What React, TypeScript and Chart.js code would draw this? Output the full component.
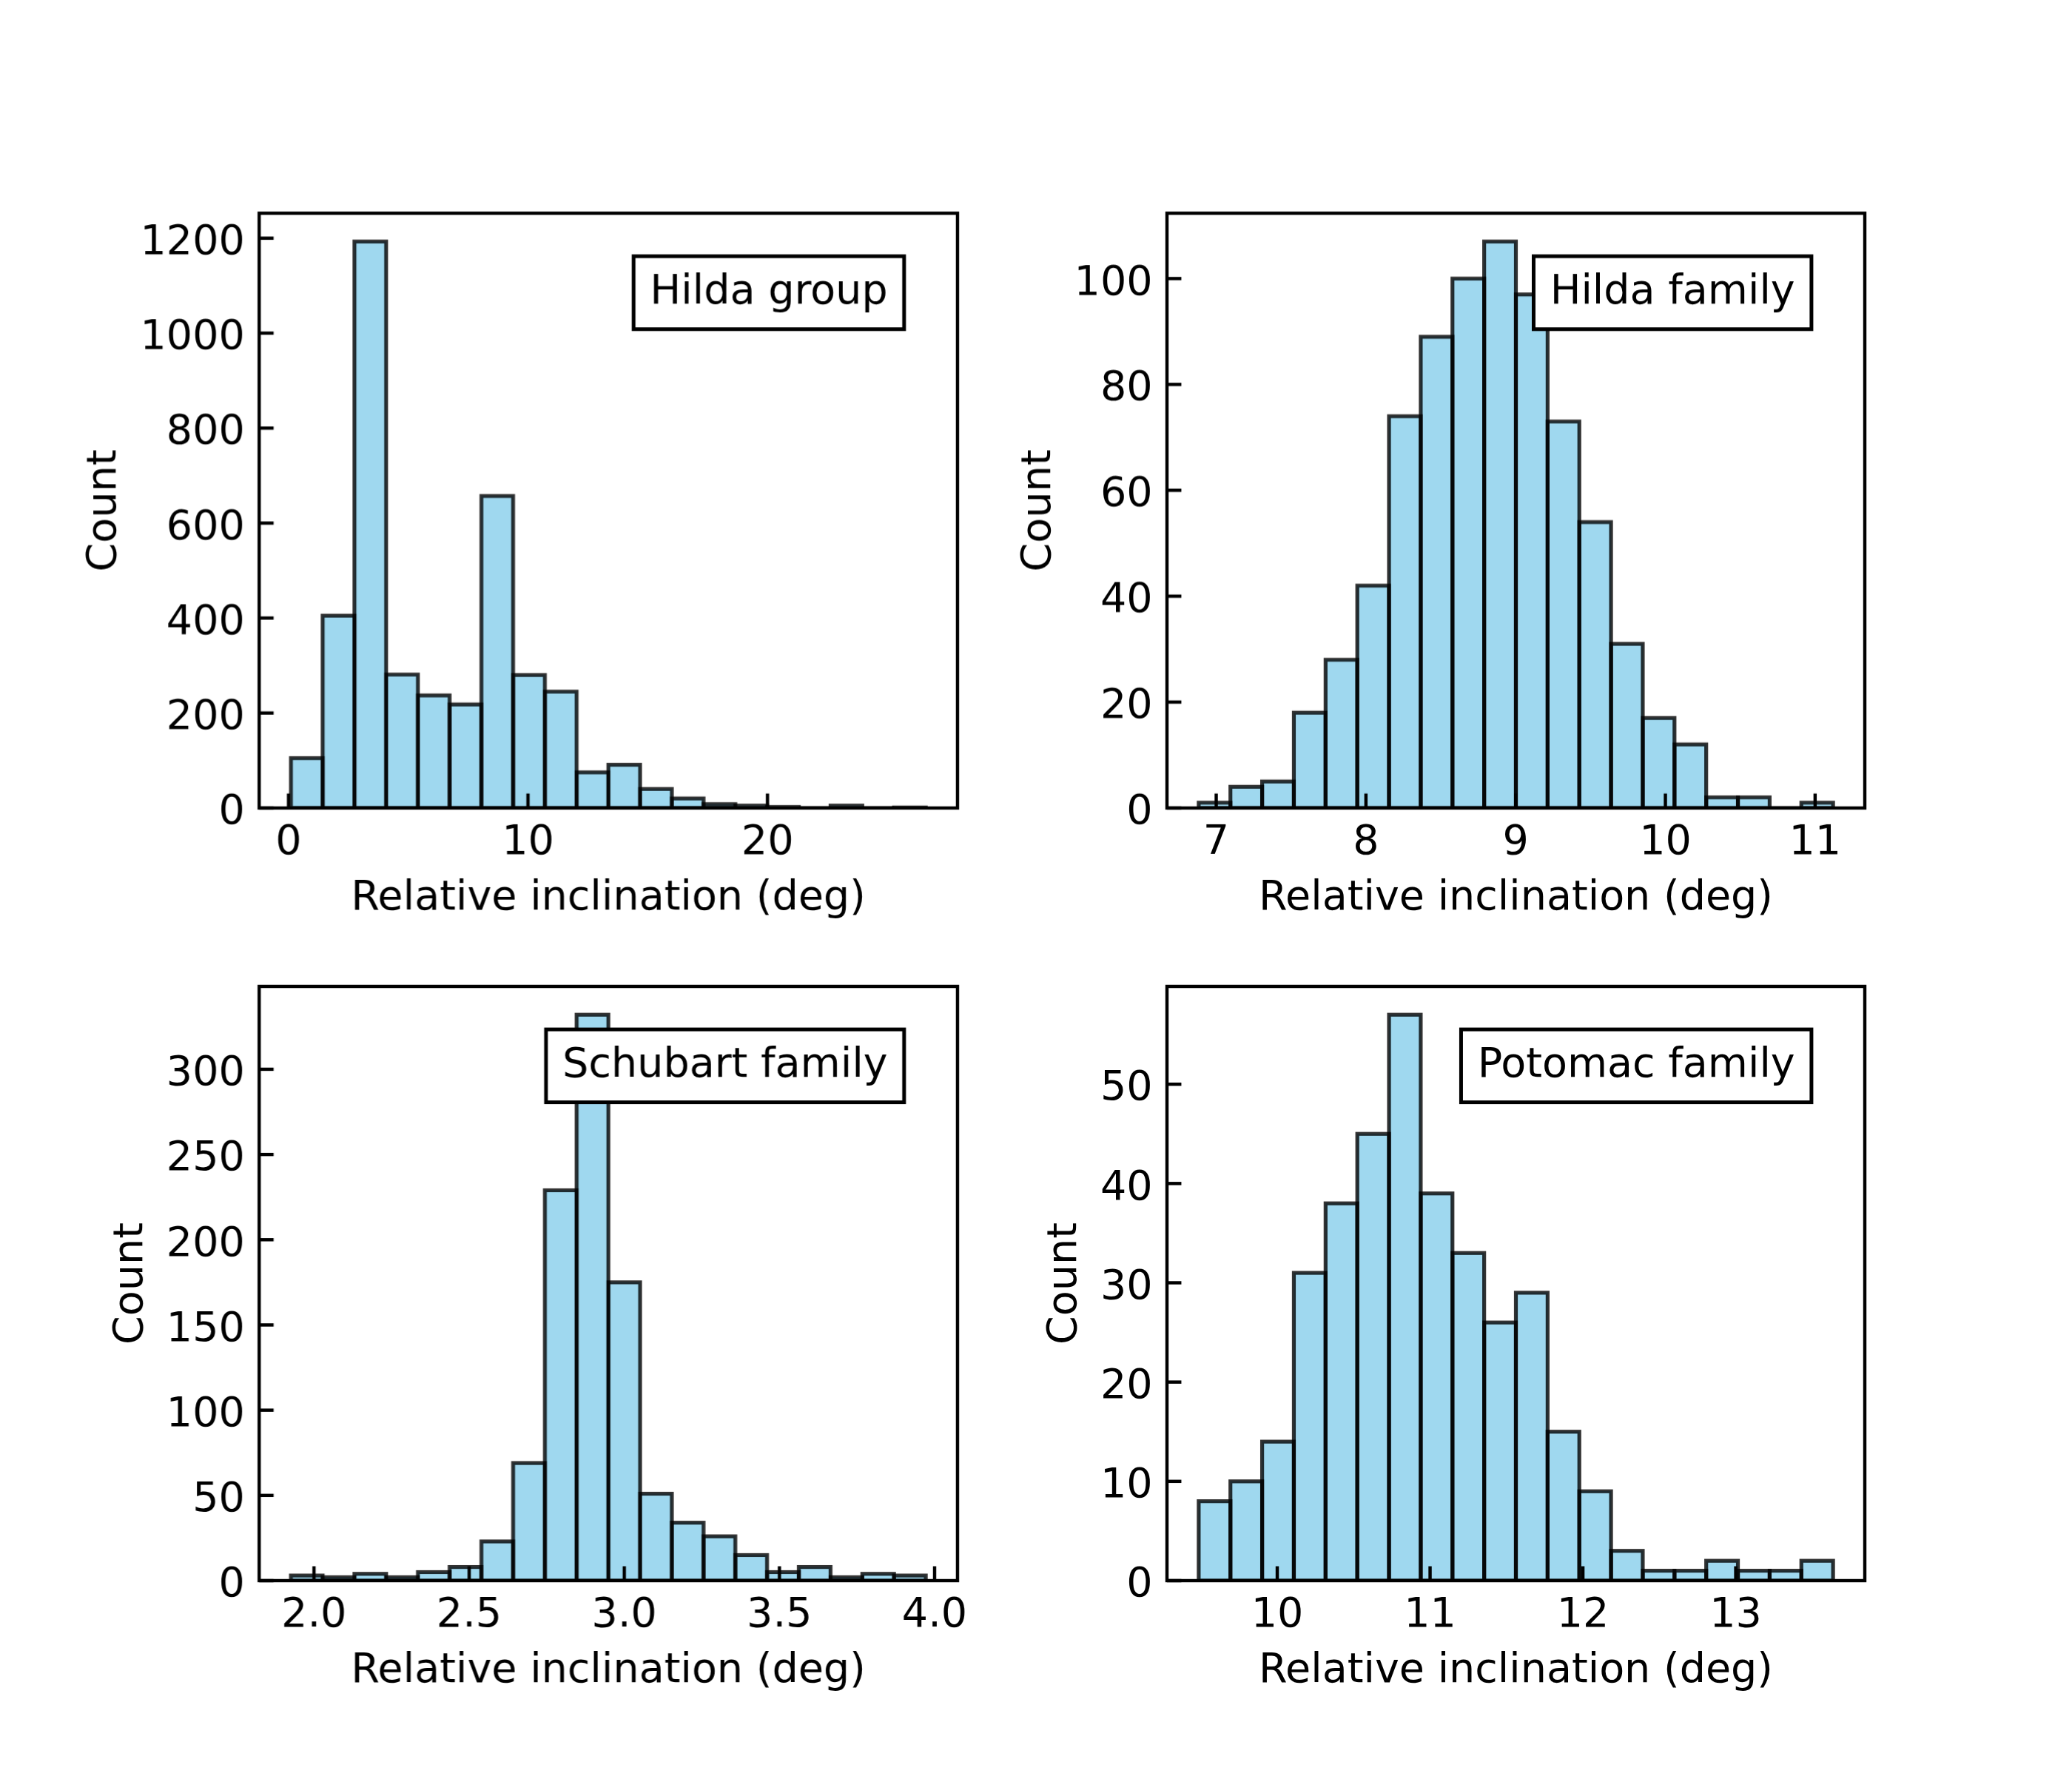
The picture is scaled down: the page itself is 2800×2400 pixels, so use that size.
import React, { useEffect, useRef } from 'react';
import { Chart, registerables } from 'chart.js';

Chart.register(...registerables);

// ---------------- data ----------------
const xAxisTitle = 'Relative inclination (deg)';
const yAxisTitle = 'Count';

// Hilda group
const hildaGroupLabel = 'Hilda group';
const hildaGroupBinStart = 0.1;
const hildaGroupBinWidth = 1.3255;
const hildaGroupCounts = [105, 405, 1193, 281, 237, 218, 657, 280, 245, 75, 91, 40, 20, 8, 5, 2, 0, 5, 0, 1];
const hildaGroupXTicks = [0, 10, 20];
const hildaGroupXTickLabels = ['0', '10', '20'];
const hildaGroupYTicks = [0, 200, 400, 600, 800, 1000, 1200];
const hildaGroupYTickLabels = ['0', '200', '400', '600', '800', '1000', '1200'];

// Hilda family
const hildaFamilyLabel = 'Hilda family';
const hildaFamilyBinStart = 6.883;
const hildaFamilyBinWidth = 0.21185;
const hildaFamilyCounts = [1, 4, 5, 18, 28, 42, 74, 89, 100, 107, 97, 73, 54, 31, 17, 12, 2, 2, 0, 1];
const hildaFamilyXTicks = [7, 8, 9, 10, 11];
const hildaFamilyXTickLabels = ['7', '8', '9', '10', '11'];
const hildaFamilyYTicks = [0, 20, 40, 60, 80, 100];
const hildaFamilyYTickLabels = ['0', '20', '40', '60', '80', '100'];

// Schubart family
const schubartLabel = 'Schubart family';
const schubartBinStart = 1.9256;
const schubartBinWidth = 0.1023;
const schubartCounts = [3, 2, 4, 2, 5, 8, 23, 69, 229, 332, 175, 51, 34, 26, 15, 5, 8, 2, 4, 3];
const schubartXTicks = [2.0, 2.5, 3.0, 3.5, 4.0];
const schubartXTickLabels = ['2.0', '2.5', '3.0', '3.5', '4.0'];
const schubartYTicks = [0, 50, 100, 150, 200, 250, 300];
const schubartYTickLabels = ['0', '50', '100', '150', '200', '250', '300'];

// Potomac family
const potomacLabel = 'Potomac family';
const potomacBinStart = 9.486;
const potomacBinWidth = 0.20755;
const potomacCounts = [8, 10, 14, 31, 38, 45, 57, 39, 33, 26, 29, 15, 9, 3, 1, 1, 2, 1, 1, 2];
const potomacXTicks = [10, 11, 12, 13];
const potomacXTickLabels = ['10', '11', '12', '13'];
const potomacYTicks = [0, 10, 20, 30, 40, 50];
const potomacYTickLabels = ['0', '10', '20', '30', '40', '50'];

// ---------------- layout / style ----------------
const FONT_FAMILY = '"DejaVu Sans", "Liberation Sans", sans-serif';
const FS = 55.56;
const LH = FS * 1.2;
const AX_COLS = [350, 1576.5];
const AX_ROWS = [288, 1332.5];
const AX_W = 943.5;
const AX_H = 803.5;
const WY = 330;
const PT = 80;
const PR = 120;
const HX = 200;
const TICK_LEN = 19.44;
const SPINE_W = 4.44;
const EDGE_W = 5.2;
const BOX_PAD = 22.2;
const BOX_TEXT_H = 54.1;
const FILL = 'rgba(135,206,235,0.8)';
const EDGE = 'rgba(0,0,0,0.8)';

type PanelCfg = {
  label: string;
  binStart: number;
  binWidth: number;
  counts: number[];
  xTicks: number[];
  xTickLabels: string[];
  yTicks: number[];
  yTickLabels: string[];
  col: number;
  row: number;
};

const panels: PanelCfg[] = [
  { label: hildaGroupLabel, binStart: hildaGroupBinStart, binWidth: hildaGroupBinWidth, counts: hildaGroupCounts, xTicks: hildaGroupXTicks, xTickLabels: hildaGroupXTickLabels, yTicks: hildaGroupYTicks, yTickLabels: hildaGroupYTickLabels, col: 0, row: 0 },
  { label: hildaFamilyLabel, binStart: hildaFamilyBinStart, binWidth: hildaFamilyBinWidth, counts: hildaFamilyCounts, xTicks: hildaFamilyXTicks, xTickLabels: hildaFamilyXTickLabels, yTicks: hildaFamilyYTicks, yTickLabels: hildaFamilyYTickLabels, col: 1, row: 0 },
  { label: schubartLabel, binStart: schubartBinStart, binWidth: schubartBinWidth, counts: schubartCounts, xTicks: schubartXTicks, xTickLabels: schubartXTickLabels, yTicks: schubartYTicks, yTickLabels: schubartYTickLabels, col: 0, row: 1 },
  { label: potomacLabel, binStart: potomacBinStart, binWidth: potomacBinWidth, counts: potomacCounts, xTicks: potomacXTicks, xTickLabels: potomacXTickLabels, yTicks: potomacYTicks, yTickLabels: potomacYTickLabels, col: 1, row: 1 },
];

function measureCtx() {
  const c = document.createElement('canvas').getContext('2d') as CanvasRenderingContext2D;
  c.font = `${FS}px ${FONT_FAMILY}`;
  return c;
}

function middleToBaseline(): number {
  const c = measureCtx();
  c.textBaseline = 'middle';
  const v = c.measureText('H').actualBoundingBoxDescent;
  return Number.isFinite(v) && v > 5 && v < 40 ? v : 17.5;
}

const decorPlugin = {
  id: 'decor',
  afterDraw(chart: any, _args: any, opts: any) {
    const { ctx, chartArea: a } = chart;
    const meta = chart.getDatasetMeta(0);
    // bar edges (centered strokes, clipped to axes)
    ctx.save();
    ctx.beginPath();
    ctx.rect(a.left, a.top, a.right - a.left, a.bottom - a.top);
    ctx.clip();
    ctx.strokeStyle = EDGE;
    ctx.lineWidth = EDGE_W;
    ctx.lineJoin = 'miter';
    meta.data.forEach((el: any) => {
      const p = el.getProps(['x', 'y', 'base', 'width'], true);
      const l = p.x - p.width / 2;
      const t = Math.min(p.y, p.base);
      const h = Math.abs(p.base - p.y);
      ctx.strokeRect(l, t, p.width, h);
    });
    ctx.restore();

    // ticks (inward)
    ctx.save();
    ctx.strokeStyle = '#000';
    ctx.lineWidth = SPINE_W;
    ctx.lineCap = 'butt';
    const xs = chart.scales.x;
    const ys = chart.scales.y;
    xs.ticks.forEach((t: any) => {
      const px = xs.getPixelForValue(t.value);
      ctx.beginPath();
      ctx.moveTo(px, a.bottom);
      ctx.lineTo(px, a.bottom - TICK_LEN);
      ctx.stroke();
    });
    ys.ticks.forEach((t: any) => {
      const py = ys.getPixelForValue(t.value);
      ctx.beginPath();
      ctx.moveTo(a.left, py);
      ctx.lineTo(a.left + TICK_LEN, py);
      ctx.stroke();
    });
    // frame
    ctx.lineJoin = 'miter';
    ctx.strokeRect(a.left, a.top, a.right - a.left, a.bottom - a.top);
    ctx.restore();

    // label box
    const label: string = opts.label;
    ctx.save();
    ctx.font = `${FS}px ${FONT_FAMILY}`;
    const tw = ctx.measureText(label).width;
    const w = a.right - a.left;
    const h = a.bottom - a.top;
    const tx = a.left + 0.9 * w;
    const ty = a.top + 0.1 * h;
    const bx = tx - tw - BOX_PAD;
    const by = ty - BOX_PAD;
    const bw = tw + 2 * BOX_PAD;
    const bh = BOX_TEXT_H + 2 * BOX_PAD;
    ctx.fillStyle = '#fff';
    ctx.fillRect(bx, by, bw, bh);
    ctx.strokeStyle = '#000';
    ctx.lineWidth = 5;
    ctx.strokeRect(bx, by, bw, bh);
    ctx.fillStyle = '#000';
    ctx.textAlign = 'right';
    ctx.textBaseline = 'alphabetic';
    ctx.fillText(label, tx, ty + 41.6);
    ctx.restore();
  },
};

function buildConfig(p: PanelCfg, m: number): any {
  const centers = p.counts.map((_, i) => p.binStart + (i + 0.5) * p.binWidth);
  const binEnd = p.binStart + p.counts.length * p.binWidth;
  const span = binEnd - p.binStart;
  const xMin = p.binStart - 0.05 * span;
  const xMax = binEnd + 0.05 * span;
  const yMax = Math.max(...p.counts) * 1.05;

  const mc = measureCtx();
  const maxYLabelW = Math.max(...p.yTickLabels.map((s) => mc.measureText(s).width));
  const dY = 19.44 + maxYLabelW + 32;
  const yTitlePadTop = Math.max(0, WY - dY - m - LH / 2);
  const xTickPad = 62.6 - m - LH / 2;
  const xTitlePadBottom = HX - 137.5 + m - LH / 2;
  const font = { family: FONT_FAMILY, size: FS };

  return {
    type: 'bar',
    data: {
      datasets: [
        {
          data: centers.map((x, i) => ({ x, y: p.counts[i] })),
          backgroundColor: FILL,
          borderWidth: 0,
          barPercentage: 1,
          categoryPercentage: 1,
        },
      ],
    },
    options: {
      responsive: false,
      maintainAspectRatio: false,
      animation: false,
      devicePixelRatio: 1,
      events: [],
      layout: { padding: { left: 0, top: PT, right: PR, bottom: 0 } },
      plugins: {
        legend: { display: false },
        tooltip: { enabled: false },
        decor: { label: p.label },
      },
      scales: {
        x: {
          type: 'linear',
          min: xMin,
          max: xMax,
          offset: false,
          bounds: 'data',
          grid: { display: false, drawTicks: false },
          border: { display: false },
          afterBuildTicks: (s: any) => {
            s.ticks = p.xTicks.map((v) => ({ value: v }));
          },
          afterFit: (s: any) => {
            s.height = HX;
          },
          ticks: {
            autoSkip: false,
            maxRotation: 0,
            minRotation: 0,
            padding: xTickPad,
            color: '#000',
            font,
            callback: (_v: any, i: number) => p.xTickLabels[i],
          },
          title: {
            display: true,
            text: xAxisTitle,
            color: '#000',
            font,
            padding: { top: 0, bottom: xTitlePadBottom },
          },
        },
        y: {
          type: 'linear',
          position: 'left',
          min: 0,
          max: yMax,
          bounds: 'data',
          grid: { display: false, drawTicks: false },
          border: { display: false },
          afterBuildTicks: (s: any) => {
            s.ticks = p.yTicks.map((v) => ({ value: v }));
          },
          afterFit: (s: any) => {
            s.width = WY;
          },
          ticks: {
            autoSkip: false,
            padding: 19.44,
            labelOffset: 22.25 - m,
            color: '#000',
            font,
            callback: (_v: any, i: number) => p.yTickLabels[i],
          },
          title: {
            display: true,
            text: yAxisTitle,
            color: '#000',
            font,
            padding: { top: yTitlePadTop, bottom: 0 },
          },
        },
      },
    },
    plugins: [decorPlugin],
  };
}

export default function App() {
  const refs = useRef<(HTMLCanvasElement | null)[]>([]);

  useEffect(() => {
    Chart.defaults.font.family = FONT_FAMILY;
    Chart.defaults.color = '#000';
    const m = middleToBaseline();
    const charts: Chart[] = [];
    panels.forEach((p, i) => {
      const cv = refs.current[i];
      if (!cv) return;
      charts.push(new Chart(cv, buildConfig(p, m)));
    });
    return () => {
      charts.forEach((c) => c.destroy());
    };
  }, []);

  return (
    <div style={{ position: 'absolute', left: 0, top: 0, width: 2800, height: 2400, background: '#fff', overflow: 'hidden' }}>
      {panels.map((p, i) => {
        const left = AX_COLS[p.col] - WY;
        const top = AX_ROWS[p.row] - PT;
        const width = WY + AX_W + PR;
        const height = PT + AX_H + HX;
        return (
          <canvas
            key={i}
            ref={(el) => {
              refs.current[i] = el;
            }}
            width={width}
            height={height}
            style={{ position: 'absolute', left, top, width, height }}
          />
        );
      })}
    </div>
  );
}
